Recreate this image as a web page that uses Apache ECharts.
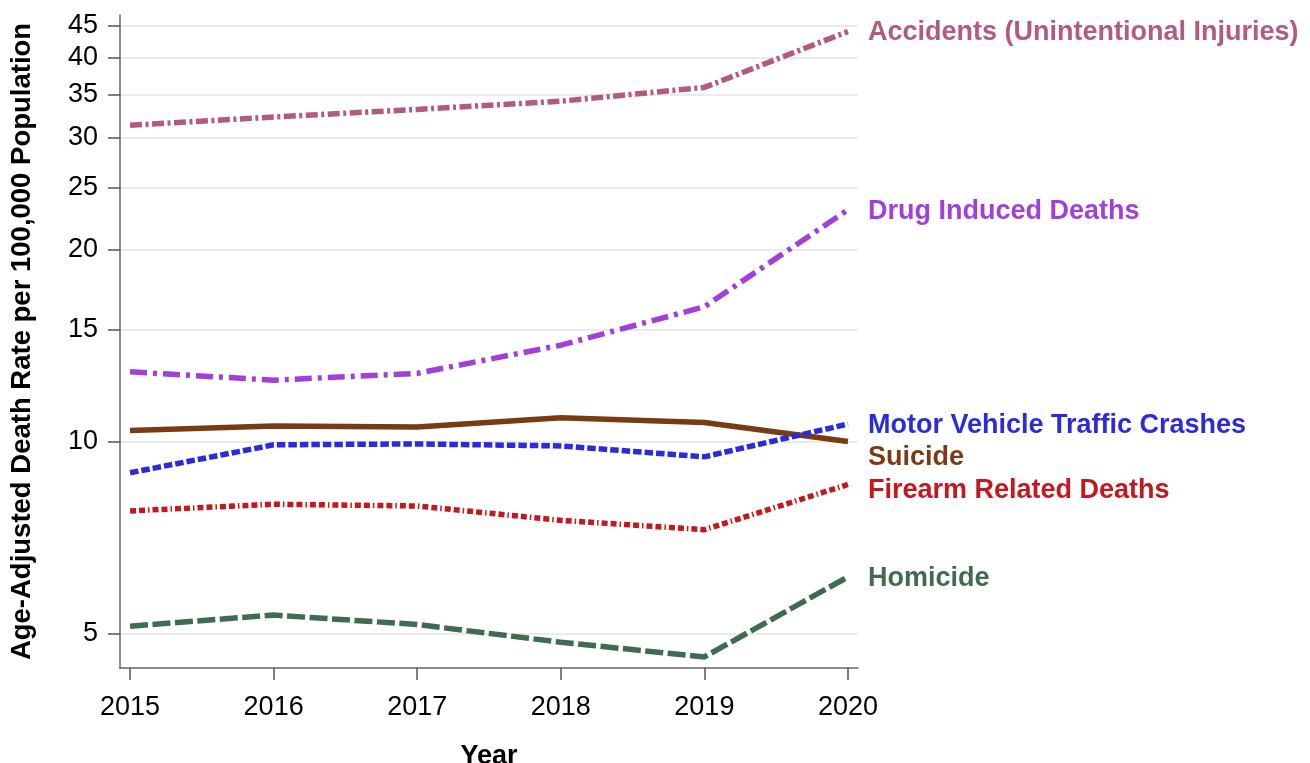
<!DOCTYPE html>
<html>
<head>
<meta charset="utf-8">
<script src="https://cdn.jsdelivr.net/npm/echarts@6/dist/echarts.min.js"></script>
<style>
  html, body { margin: 0; padding: 0; background: #fff; }
  #chart { width: 1310px; height: 763px; }
</style>
</head>
<body>
<div id="chart"></div>
<script>
// data
const years = [2015, 2016, 2017, 2018, 2019, 2020]
const accidents = [31.35, 32.3, 33.2, 34.2, 35.95, 44.0]
const drugInduced = [12.86, 12.48, 12.79, 14.16, 16.27, 23.1]
const suicide = [10.4, 10.57, 10.54, 10.89, 10.71, 10.0]
const motorVehicle = [8.93, 9.88, 9.91, 9.84, 9.46, 10.65]
const firearm = [7.78, 7.97, 7.92, 7.52, 7.27, 8.56]
const homicide = [5.13, 5.34, 5.16, 4.84, 4.59, 6.13]
const yTicks = [5, 10, 15, 20, 25, 30, 35, 40, 45]

const FONT = "'Liberation Sans', Arial, Helvetica, sans-serif"

// name, values, colour, dash pattern, label nudge
const lines = [
  ['Accidents (Unintentional Injuries)', accidents, '#B35A80', [12, 3.5, 3, 3.5], 1],
  ['Drug Induced Deaths', drugInduced, '#A13FDC', [17, 6, 4, 6], 1.5],
  ['Suicide', suicide, '#7A3A12', 'solid', 16.5],
  ['Motor Vehicle Traffic Crashes', motorVehicle, '#2B2BDB', [8.5, 3], 1.5],
  ['Firearm Related Deaths', firearm, '#C4181E', [6, 3, 6, 3, 1.5, 3], 6],
  ['Homicide', homicide, '#3F6B50', [18, 4.5], 1.5]
]

const chart = echarts.init(document.getElementById('chart'))

chart.setOption({
  animation: false,
  backgroundColor: '#FFFFFF',
  textStyle: { fontFamily: FONT },
  grid: {
    left: 120,
    top: 15,
    right: 452,
    bottom: 95,
    outerBoundsMode: 'none',
    containLabel: false
  },
  xAxis: {
    type: 'value',
    min: 2014.93,
    max: 2020.07,
    name: 'Year',
    nameLocation: 'middle',
    nameGap: 75,
    nameTextStyle: { color: '#000', fontSize: 27, fontWeight: 'bold', fontFamily: FONT },
    axisLine: { lineStyle: { color: '#666', width: 1.5 } },
    axisTick: { customValues: years, length: 12, lineStyle: { color: '#555', width: 1.5 } },
    axisLabel: {
      customValues: years,
      color: '#000',
      fontSize: 27,
      margin: 26,
      fontFamily: FONT,
      formatter: v => String(v)
    },
    splitLine: { show: false }
  },
  yAxis: {
    type: 'log',
    logBase: 10,
    min: 4.41,
    max: 46.7,
    name: 'Age-Adjusted Death Rate per 100,000 Population',
    nameLocation: 'middle',
    nameGap: 84,
    nameTextStyle: { color: '#000', fontSize: 27.5, fontWeight: 'bold', fontFamily: FONT },
    axisLine: { show: true, lineStyle: { color: '#666', width: 1.5 } },
    axisTick: { show: true, customValues: yTicks, length: 12, lineStyle: { color: '#555', width: 1.5 } },
    axisLabel: {
      customValues: yTicks,
      color: '#000',
      fontSize: 27,
      margin: 22,
      fontFamily: FONT,
      formatter: v => String(Math.round(v))
    },
    splitLine: { show: true, lineStyle: { color: '#E3E3E3', width: 1.5 } }
  },
  series: lines.map(([name, values, color, dash, nudge]) => ({
    name: name,
    type: 'line',
    data: years.map((y, i) => [y, values[i]]),
    showSymbol: false,
    symbol: 'none',
    lineStyle: { color: color, width: 5.5, type: dash, cap: 'butt' },
    itemStyle: { color: color },
    endLabel: {
      show: true,
      formatter: '{a}',
      color: color,
      fontSize: 27,
      fontWeight: 'bold',
      fontFamily: FONT,
      distance: 20,
      offset: [0, nudge]
    }
  }))
})
</script>
</body>
</html>
